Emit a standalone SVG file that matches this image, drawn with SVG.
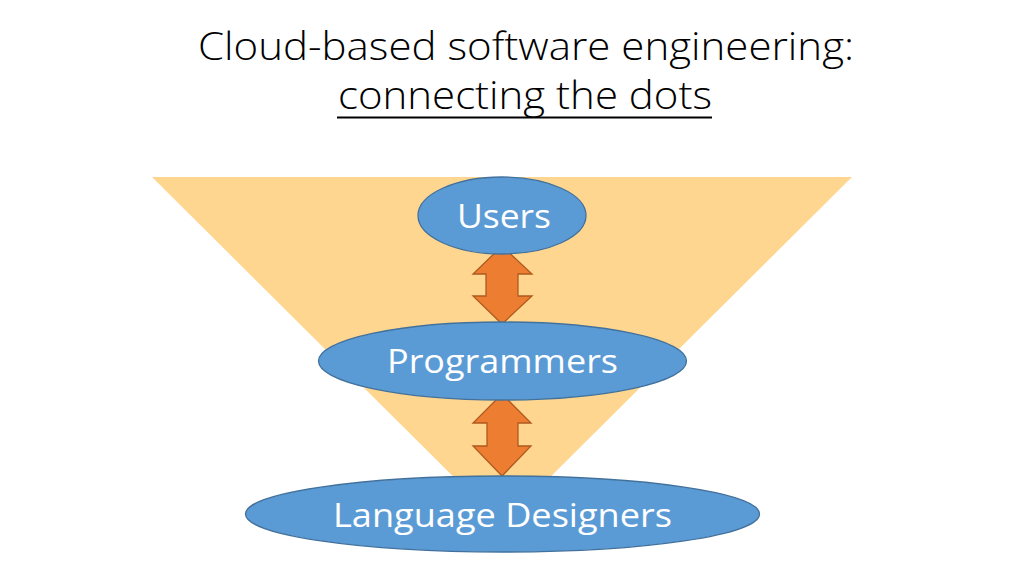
<svg xmlns="http://www.w3.org/2000/svg" width="1024" height="576" viewBox="0 0 1024 576">
<style>
.title{font-family:"Open Sans","Liberation Sans",sans-serif;font-weight:300;font-size:39px;fill:#000;}
.node{fill:#5B9BD5;stroke:#41719C;stroke-width:1.3;}
.lbl{font-family:"Open Sans","Liberation Sans",sans-serif;font-size:33px;fill:#fff;text-anchor:middle;}
.arr{fill:#ED7D31;stroke:#AE5A21;stroke-width:1.3;stroke-linejoin:miter;}
</style>
<rect width="1024" height="576" fill="#fff"/>
<text class="title" x="526" y="60" text-anchor="middle" textLength="656" lengthAdjust="spacingAndGlyphs">Cloud-based software engineering:</text>
<text class="title" x="525" y="109" text-anchor="middle" textLength="374" lengthAdjust="spacingAndGlyphs">connecting the dots</text>
<line x1="337" y1="117.5" x2="712" y2="117.5" stroke="#000" stroke-width="2"/>
<polygon id="funnel" points="152,177 852,177 502,525" fill="#FFD68F"/>
<g id="connectors">
<polygon id="arrow1" class="arr" points="502,246 532,274 518,274 518,296 532,296 502,324 473,296 486,296 486,274 473,274"/>
<polygon id="arrow2" class="arr" points="502,394 531,423 518,423 518,446 531,446 502,476 473,446 487,446 487,423 473,423"/>
</g>
<g id="users">
<ellipse class="node" cx="502" cy="215.5" rx="84" ry="38.5"/>
<text class="lbl" x="504" y="228" textLength="94" lengthAdjust="spacingAndGlyphs">Users</text>
</g>
<g id="programmers">
<ellipse class="node" cx="502.5" cy="361" rx="184" ry="39"/>
<text class="lbl" x="502.5" y="373" textLength="231" lengthAdjust="spacingAndGlyphs">Programmers</text>
</g>
<g id="language-designers">
<ellipse class="node" cx="502.5" cy="514" rx="257" ry="38"/>
<text class="lbl" x="502.5" y="527" textLength="339" lengthAdjust="spacingAndGlyphs">Language Designers</text>
</g>
</svg>
